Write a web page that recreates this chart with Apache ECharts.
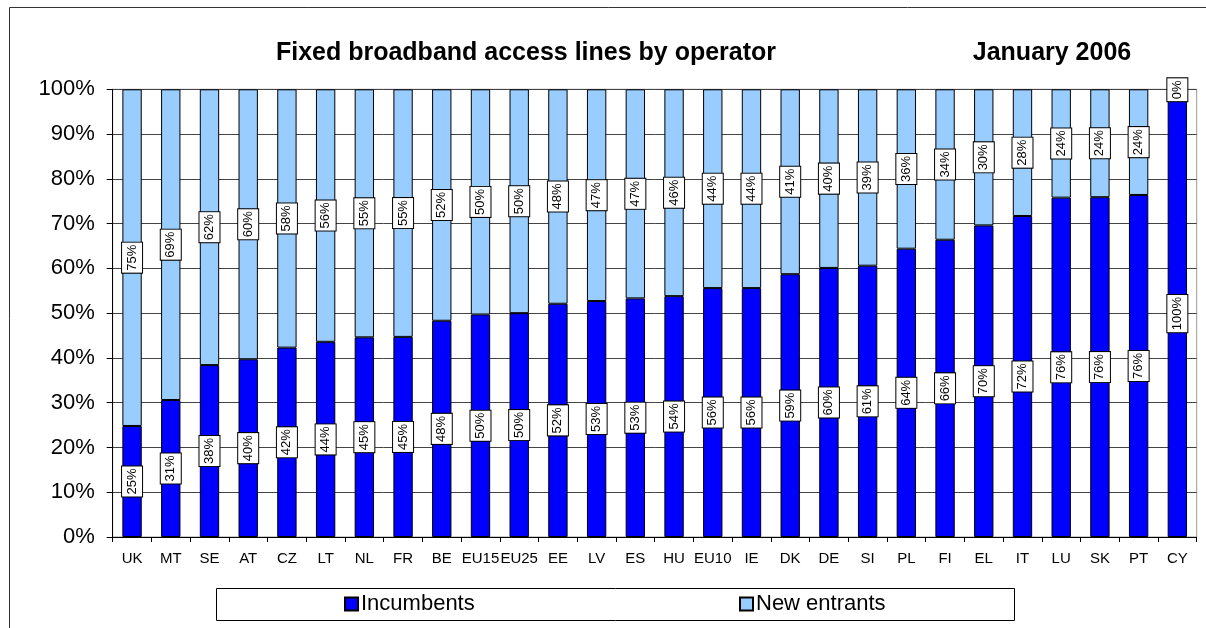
<!DOCTYPE html>
<html>
<head>
<meta charset="utf-8">
<script src="https://cdn.jsdelivr.net/npm/echarts@6/dist/echarts.min.js"></script>
<style>
html,body{margin:0;padding:0;background:#fff;}
#chart{width:1206px;height:628px;}
</style>
</head>
<body>
<div id="chart"></div>
<script>
const categories = ['UK','MT','SE','AT','CZ','LT','NL','FR','BE','EU15','EU25','EE','LV','ES','HU','EU10','IE','DK','DE','SI','PL','FI','EL','IT','LU','SK','PT','CY'];
const incumbents = [24.8,30.6,38.4,39.7,42.3,43.6,44.6,44.7,48.3,49.7,50.0,52.1,52.7,53.3,53.8,55.6,55.6,58.7,60.1,60.6,64.4,66.4,69.6,71.7,75.8,75.9,76.4,99.8];
const newEntrants = [75.2,69.4,61.6,60.3,57.7,56.4,55.4,55.3,51.7,50.3,50.0,47.9,47.3,46.7,46.2,44.4,44.4,41.3,39.9,39.4,35.6,33.6,30.4,28.3,24.2,24.1,23.6,0.2];
const yTicks = [0,10,20,30,40,50,60,70,80,90,100];
const titleText = 'Fixed broadband access lines by operator';
const dateText = 'January 2006';
const seriesNames = ['Incumbents','New entrants'];

const FONT = 'Arial, "Liberation Sans", sans-serif';
const chart = echarts.init(document.getElementById('chart'));

const labelStyle = {
  show: true,
  position: 'inside',
  rotate: 90,
  formatter: p => Math.round(p.value) + '%',
  color: '#000',
  fontFamily: FONT,
  fontSize: 13,
  backgroundColor: '#fff',
  borderColor: '#000',
  borderWidth: 1,
  padding: [4, 2, 3, 2]
};

chart.setOption({
  animation: false,
  backgroundColor: '#fff',
  textStyle: {fontFamily: FONT},
  title: [
    {text: titleText, left: 521, top: 36, textAlign: 'center',
     textStyle: {fontFamily: FONT, fontSize: 25, fontWeight: 'bold', color: '#000'}},
    {text: dateText, left: 1047, top: 36, textAlign: 'center',
     textStyle: {fontFamily: FONT, fontSize: 25, fontWeight: 'bold', color: '#000'}}
  ],
  graphic: [
    {type: 'rect', silent: true, z: -10,
     shape: {x: 9.5, y: 7.5, width: 1300, height: 700},
     style: {fill: null, stroke: '#333', lineWidth: 1}},
    {type: 'rect', silent: true, z: -10,
     shape: {x: 216.5, y: 588.5, width: 798, height: 32},
     style: {fill: '#fff', stroke: '#000', lineWidth: 1}}
  ],
  legend: [
    {data: [seriesNames[0]], left: 344, top: 593, padding: 0, itemWidth: 13, itemHeight: 13,
     itemGap: 0, icon: 'rect',
     textStyle: {fontFamily: FONT, fontSize: 22, color: '#000', padding: [0,0,0,-2]}},
    {data: [seriesNames[1]], left: 739, top: 593, padding: 0, itemWidth: 13, itemHeight: 13,
     itemGap: 0, icon: 'rect',
     textStyle: {fontFamily: FONT, fontSize: 22, color: '#000', padding: [0,0,0,-2]}}
  ],
  grid: {left: 112.7, right: 9.3, top: 89.3, bottom: 91, show: true, borderColor: '#999', borderWidth: 1},
  xAxis: {
    type: 'category',
    data: categories,
    axisLine: {lineStyle: {color: '#000', width: 1}},
    axisTick: {show: true, alignWithLabel: false, length: 5, lineStyle: {color: '#000'}},
    axisLabel: {color: '#000', fontSize: 15, fontFamily: FONT, margin: 14, interval: 0}
  },
  yAxis: {
    type: 'value',
    min: 0, max: 100, interval: 10,
    axisLine: {show: true, lineStyle: {color: '#000', width: 1}},
    axisTick: {show: true, length: 6, lineStyle: {color: '#000'}},
    axisLabel: {color: '#000', fontSize: 22, fontFamily: FONT, margin: 18,
      formatter: v => yTicks.includes(v) ? v + '%' : ''},
    splitLine: {show: true, lineStyle: {color: '#444', width: 1}}
  },
  series: [
    {name: seriesNames[0], type: 'bar', stack: 'total', data: incumbents,
     barWidth: '50%',
     itemStyle: {color: '#0000FF', borderColor: '#000', borderWidth: 1},
     label: labelStyle},
    {name: seriesNames[1], type: 'bar', stack: 'total', data: newEntrants,
     barWidth: '50%',
     itemStyle: {color: '#99CCFF', borderColor: '#000', borderWidth: 1},
     label: labelStyle}
  ]
});
</script>
</body>
</html>
